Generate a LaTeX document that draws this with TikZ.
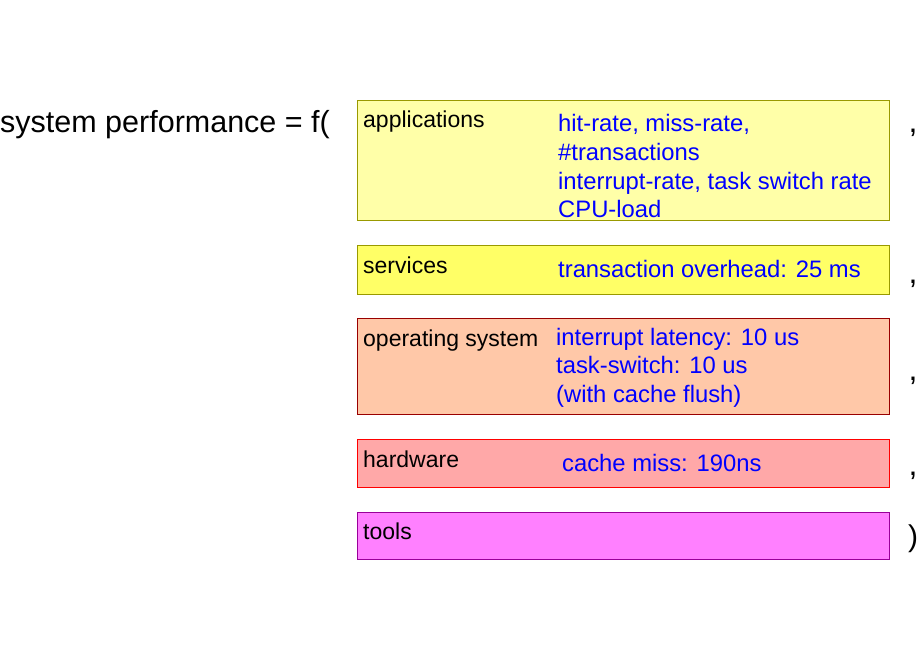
\documentclass[tikz,border=0pt]{standalone}
\usepackage{fontspec}
\setmainfont{Liberation Sans}
\begin{document}
\begin{tikzpicture}[x=1pt,y=-1pt,
  box/.style={draw,line width=0.8pt},
  lab/.style={anchor=base west,inner sep=0pt,font=\fontsize{23}{26}\selectfont},
  val/.style={anchor=base west,inner sep=0pt,text=blue,font=\fontsize{23.8}{28.6}\selectfont},
  sep/.style={anchor=base,inner sep=0pt,font=\fontsize{32}{34}\selectfont}]
\useasboundingbox (0,0) rectangle (920,660);
\definecolor{appf}{HTML}{FFFFA8}\definecolor{appd}{HTML}{999900}
\definecolor{srvf}{HTML}{FFFF66}
\definecolor{osf}{HTML}{FFC8A8}\definecolor{osd}{HTML}{990000}
\definecolor{hwf}{HTML}{FFA8A8}
\definecolor{tlf}{HTML}{FF80FF}\definecolor{tld}{HTML}{990099}
\node[anchor=base west,inner sep=0pt,font=\fontsize{30.5}{32}\selectfont] (title) at (0,133) {system performance = f(};
\draw[box,draw=appd,fill=appf] (357,100) rectangle (889,220);
\draw[box,draw=appd,fill=srvf] (357,245) rectangle (889,294);
\draw[box,draw=osd,fill=osf] (357,318) rectangle (889,414);
\draw[box,draw=red,fill=hwf] (357,439) rectangle (889,487);
\draw[box,draw=tld,fill=tlf] (357,512) rectangle (889,559);
\node[lab] (l1) at (363,128) {applications};
\node[lab] (l2) at (363,273) {services};
\node[lab] (l3) at (363,346) {operating system};
\node[lab] (l4) at (363,467) {hardware};
\node[lab] (l5) at (363,539) {tools};
\node[val] (v1a) at (558,132) {hit-rate, miss-rate,};
\node[val] (v1b) at (558,160.6) {\#transactions};
\node[val] (v1c) at (558,189.2) {interrupt-rate, task switch rate};
\node[val] (v1d) at (558,217.8) {CPU-load};
\node[val] (v2) at (558,277) {transaction overhead: 25 ms};
\node[val] (v3a) at (556,345) {interrupt latency: 10 us};
\node[val] (v3b) at (556,373.6) {task-switch: 10 us};
\node[val] (v3c) at (556,402.2) {(with cache flush)};
\node[val] (v4) at (562,471) {cache miss: 190ns};
\node[sep] (c1) at (913,133) {,};
\node[sep] (c2) at (913,283) {,};
\node[sep] (c3) at (913,380) {,};
\node[sep] (c4) at (913,475) {,};
\node[sep,font=\fontsize{30}{32}\selectfont] (c5) at (913,546) {)};
\end{tikzpicture}
\end{document}
